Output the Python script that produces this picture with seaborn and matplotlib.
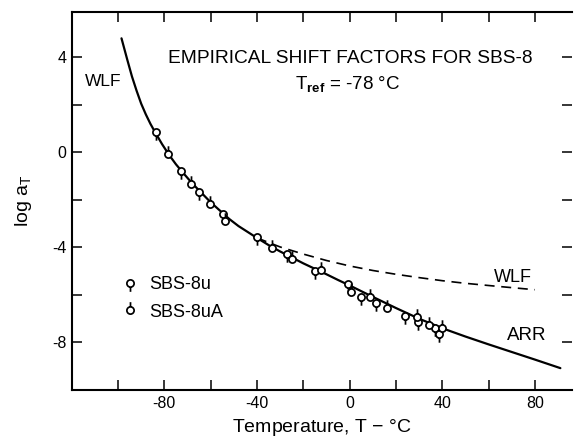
import matplotlib
matplotlib.use("Agg")
import matplotlib.pyplot as plt
from matplotlib.path import Path
from matplotlib.lines import Line2D
import seaborn as sns

# --- values (T in degC, log aT) ---
# solid curve (WLF at low T joining ARR at high T)
fit_T = [-98.5, -96, -94, -92, -90, -88, -86, -84, -81, -78, -75, -72, -68,
         -64, -60, -56, -52, -48, -44, -40, -35, -30, -25, -20, -15, -10,
         -5, 0, 10, 20, 30, 40, 50, 60, 70, 80, 91]
fit_log = [4.8, 3.9, 3.2, 2.6, 2.05, 1.6, 1.2, 0.85, 0.35, -0.1, -0.5, -0.85,
           -1.3, -1.7, -2.1, -2.45, -2.8, -3.1, -3.35, -3.6, -3.9, -4.17,
           -4.42, -4.67, -4.9, -5.13, -5.37, -5.6, -6.08, -6.55, -7.0, -7.4,
           -7.75, -8.08, -8.4, -8.72, -9.08]

# dashed WLF extrapolation
wlf_T = [-40, -30, -20, -10, 0, 10, 20, 30, 40, 50, 63, 72, 80]
wlf_log = [-3.6, -3.98, -4.28, -4.55, -4.78, -4.97, -5.13, -5.27, -5.4,
           -5.51, -5.63, -5.71, -5.78]

# SBS-8u
u_T = [-83.8, -73.0, -65.1, -54.6, -40.2, -27.0, -15.0, -0.9, 5.1, 11.6,
       23.7, 29.6, 36.8, 38.7]
u_log = [0.87, -0.77, -1.66, -2.59, -3.55, -4.29, -4.99, -5.55, -6.07, -6.34,
         -6.88, -7.12, -7.39, -7.63]

# SBS-8uA
ua_T = [-78.4, -68.5, -60.1, -53.6, -33.7, -24.7, -12.4, 0.4, 8.7, 16.2,
        29.2, 34.3, 39.7]
ua_log = [-0.08, -1.34, -2.17, -2.87, -4.01, -4.50, -4.95, -5.88, -6.07,
          -6.54, -6.93, -7.26, -7.39]

x_major = [-80, -40, 0, 40, 80]
x_minor = [-100, -60, -20, 20, 60]
y_major = [4, 0, -4, -8]
y_minor = [2, -2, -6]

sns.set_style("ticks")
plt.rcParams["font.family"] = ["Liberation Sans", "DejaVu Sans"]
plt.rcParams["mathtext.fontset"] = "custom"
plt.rcParams["mathtext.rm"] = "Liberation Sans"
plt.rcParams["mathtext.bf"] = "Liberation Sans:bold"
plt.rcParams["axes.unicode_minus"] = False
for k in ["text.color", "axes.labelcolor", "xtick.color", "ytick.color",
          "axes.edgecolor"]:
    plt.rcParams[k] = "black"

# open circle with a short stem (down for 8u, up for 8uA)
circ = Path.circle((0, 0), 1.0)
stem_dn = Path.make_compound_path(circ, Path([(0, -1.0), (0, -2.3)], [Path.MOVETO, Path.LINETO]))
stem_up = Path.make_compound_path(circ, Path([(0, 1.0), (0, 2.3)], [Path.MOVETO, Path.LINETO]))

fig = plt.figure(figsize=(5.75, 4.45), dpi=100)
ax = fig.add_axes([0.1247, 0.1236, 0.870, 0.849])

sns.lineplot(x=fit_T, y=fit_log, ax=ax, color="black", lw=1.6,
             sort=False, estimator=None, zorder=2)
sns.lineplot(x=wlf_T, y=wlf_log, ax=ax, color="black", lw=1.2,
             sort=False, estimator=None, zorder=2, dashes=False,
             linestyle=(0, (6, 4)))

msize = 140
sns.scatterplot(x=u_T, y=u_log, ax=ax, marker=stem_dn, s=msize,
                color="white", edgecolor="black", linewidth=1.25, zorder=3)
sns.scatterplot(x=ua_T, y=ua_log, ax=ax, marker=stem_up, s=msize,
                color="white", edgecolor="black", linewidth=1.25, zorder=3)

ax.set_xlim(-120, 96)
ax.set_ylim(-10, 5.9)
ax.set_xticks(x_major)
ax.set_xticks(x_minor, minor=True)
ax.set_yticks(y_major)
ax.set_yticks(y_minor, minor=True)
ax.tick_params(which="both", direction="in", top=True, right=True,
               length=7, width=1.1, labelsize=11.5, pad=4)
for s in ["left", "top", "bottom"]:
    ax.spines[s].set_linewidth(1.5)
ax.spines["right"].set_visible(False)

ax.set_xlabel("Temperature, T $-$ °C", fontsize=14, labelpad=5)
ax.set_ylabel(r"log a$_\mathregular{T}$", fontsize=14, labelpad=13)

ax.text(0.5, 3.96, "EMPIRICAL SHIFT FACTORS FOR SBS-8", fontsize=13.8,
        ha="center", va="center")
ax.text(-1, 2.83, r"T$_\mathbf{ref}$ = -78 °C", fontsize=13.5,
        ha="center", va="center")
ax.text(-106.6, 3.0, "WLF", fontsize=12.5, ha="center", va="center")
ax.text(70.5, -5.25, "WLF", fontsize=13, ha="center", va="center")
ax.text(76.5, -7.7, "ARR", fontsize=13.5, ha="center", va="center")

handles = [
    Line2D([], [], marker=stem_dn, markersize=12, mfc="white", mec="black",
           mew=1.25, ls="none"),
    Line2D([], [], marker=stem_up, markersize=12, mfc="white", mec="black",
           mew=1.25, ls="none"),
]
ax.legend(handles, ["SBS-8u", "SBS-8uA"], loc="upper left",
          bbox_to_anchor=(0.066, 0.345), frameon=False, fontsize=13,
          handlelength=1.0, handletextpad=0.55, labelspacing=0.6)

fig.savefig("out.png", dpi=100)
